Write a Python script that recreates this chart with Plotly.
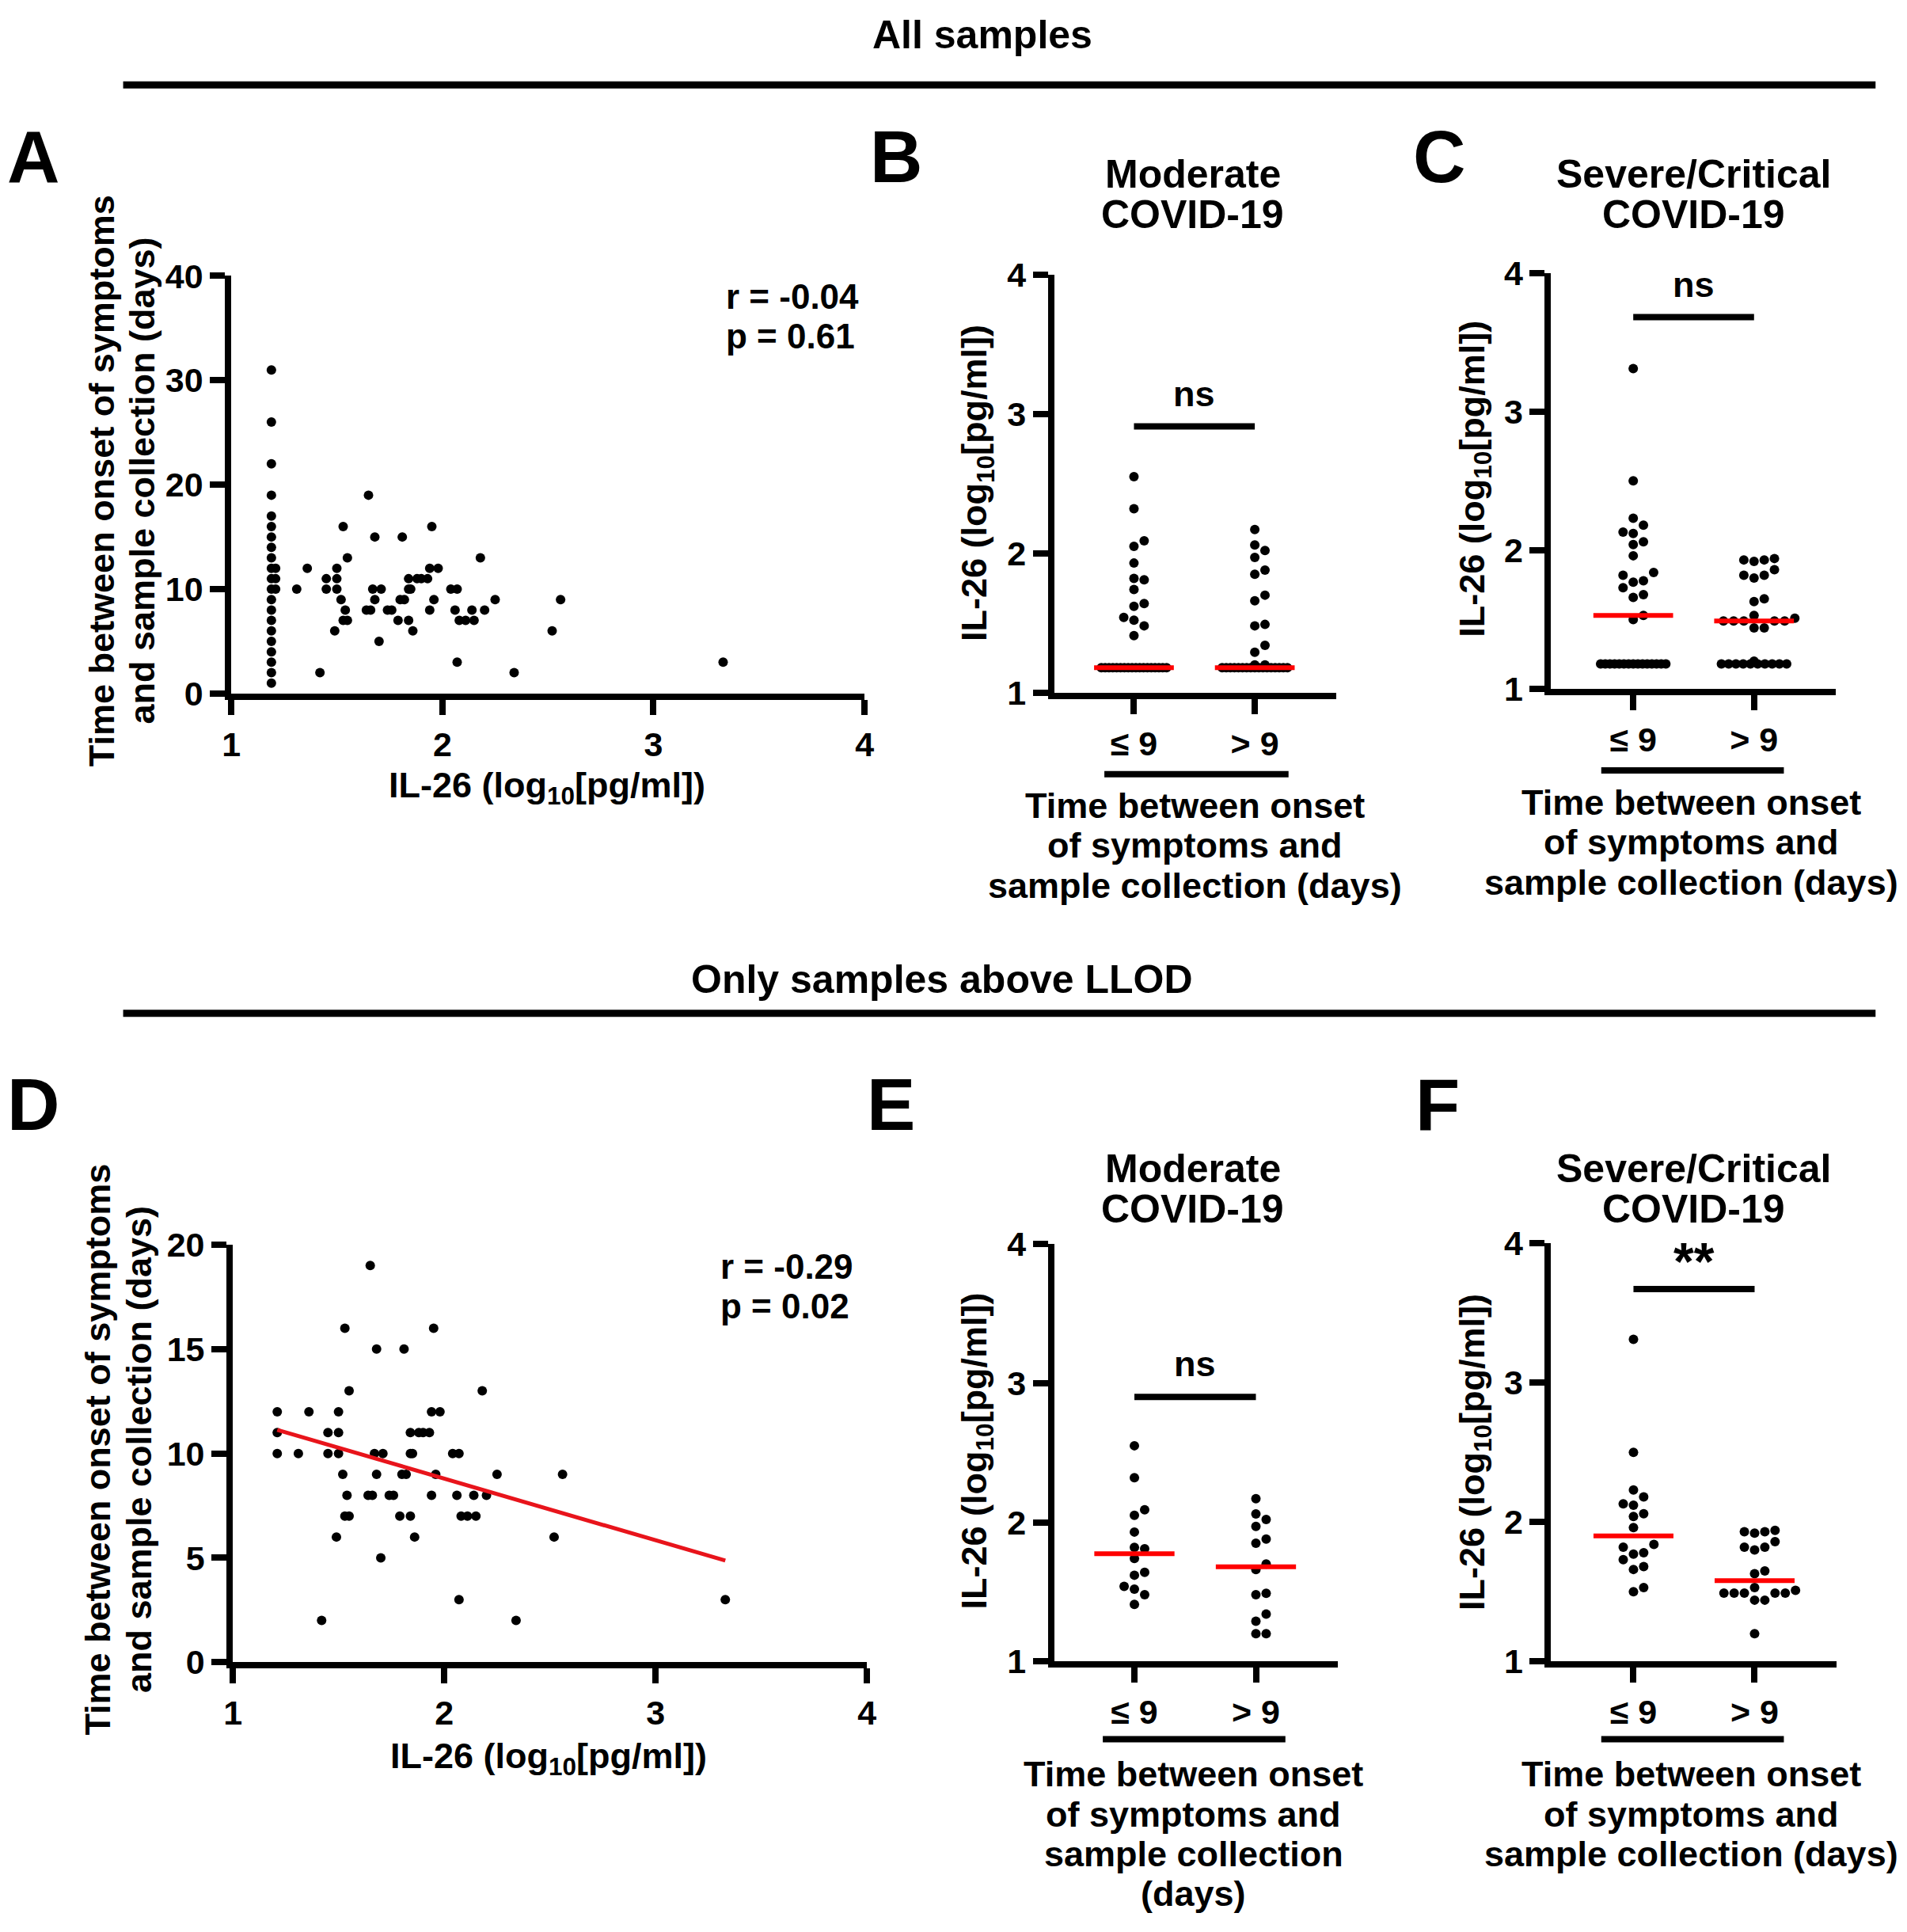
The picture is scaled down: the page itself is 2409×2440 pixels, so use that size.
import numpy as np
import plotly.graph_objects as go

W, H = 2409, 2440
FONT = "Liberation Sans"

# samples above LLOD: IL-26 (log10 pg/ml) vs days since onset (panels A and D)
above_il26 = [1.21, 1.21, 1.21, 1.31, 1.36, 1.45, 1.50, 1.50, 1.45, 1.50,
              1.52, 1.53, 1.55, 1.54, 1.53, 1.55, 1.49, 1.42, 1.65, 1.68,
              1.67, 1.71, 1.68, 1.64, 1.66, 1.70, 1.74, 1.76, 1.81, 1.84,
              1.88, 1.90, 1.93, 1.84, 1.85, 1.80, 1.82, 1.79, 1.84, 1.86,
              1.95, 1.94, 1.98, 1.96, 1.94, 2.04, 2.07, 2.06, 2.14, 2.20,
              2.08, 2.11, 2.15, 2.18, 2.25, 2.07, 2.34, 2.52, 2.56, 3.33]
above_days = [12, 11, 10, 10, 12, 11, 11, 12, 10, 10,
              9, 16, 13, 8, 7, 7, 6, 2, 19, 15,
              10, 10, 9, 8, 8, 5, 8, 8, 15, 11,
              11, 11, 11, 10, 10, 9, 9, 7, 7, 6,
              16, 12, 12, 9, 8, 10, 10, 8, 8, 8,
              7, 7, 7, 13, 9, 3, 2, 6, 9, 3]

# samples at the lower limit of detection (panel A only)
llod = 1.18
llod_days = [1, 2, 3, 4, 5, 6, 7, 8, 9, 10, 11, 12, 13, 14, 15, 16, 17, 19, 22, 26, 31]

# IL-26 above LLOD per group
mod_le9 = [2.55, 2.32, 2.09, 2.05, 1.93, 1.82, 1.81, 1.74, 1.64, 1.62, 1.54, 1.52, 1.48, 1.41]
mod_gt9 = [2.17, 2.06, 2.02, 1.97, 1.88, 1.85, 1.70, 1.66, 1.49, 1.48, 1.34, 1.29, 1.20, 1.20]
sev_le9 = [3.31, 2.50, 2.23, 2.18, 2.13, 2.12, 2.06, 2.04, 1.96, 1.84, 1.82, 1.78, 1.77, 1.73,
           1.68, 1.66, 1.53, 1.50]
sev_gt9 = [1.94, 1.93, 1.93, 1.92, 1.86, 1.82, 1.82, 1.80, 1.65, 1.63, 1.53, 1.51, 1.49, 1.49,
           1.49, 1.49, 1.49, 1.44, 1.44, 1.20]
# number of samples at LLOD per group (only in B and C)
mod_le9_llod = 18
mod_gt9_llod = 17
sev_le9_llod = 15
sev_gt9_llod = 10

group_labels = ["≤ 9", "> 9"]
stats_all = ["r = -0.04", "p = 0.61"]
stats_above = ["r = -0.29", "p = 0.02"]

IL26 = "IL-26 (log<sub>10</sub>[pg/ml])"
DAYS = ["Time between onset of symptoms", "and sample collection (days)"]


def fnt(size):
    return dict(family=FONT, size=size, color="black", weight="bold")


def swarm(vals, xpx=154, ypx=179, step=13, dist=13):
    # simple beeswarm, offsets in x data units
    vals = np.asarray(vals, float)
    offs = np.zeros(len(vals))
    placed = []
    for i in np.argsort(vals):
        y = vals[i] * ypx
        x = 0
        for k in range(80):
            m = (k + 1) // 2 * (1 if k % 2 else -1)
            x = m * step
            if all((x - a) ** 2 + (y - b) ** 2 >= dist ** 2 for a, b in placed):
                break
        placed.append((x, y))
        offs[i] = x / xpx
    return offs


def ax(**kw):
    d = dict(showline=True, linewidth=8, linecolor="black", ticks="outside", ticklen=19,
             tickwidth=8, tickcolor="black", showgrid=False, zeroline=False,
             tickfont=fnt(43), fixedrange=True)
    d.update(kw)
    return d


def dom_x(a, b):
    return [a / W, b / W]


def dom_y(bottom, top):
    return [1 - bottom / H, 1 - top / H]


def text(x, y, s, size=45, **kw):
    opts = dict(xanchor="center", yanchor="middle")
    opts.update(kw)
    fig.add_annotation(x=x / W, y=1 - y / H, xref="paper", yref="paper", text=s,
                       showarrow=False, font=fnt(size), **opts)


def hline(x0, x1, y, width=8):
    fig.add_shape(type="line", xref="paper", yref="paper", x0=x0 / W, x1=x1 / W,
                  y0=1 - y / H, y1=1 - y / H, line=dict(color="black", width=width))


fig = go.Figure()

# ---- scatter panels A (all samples) and D (above LLOD)
fig.add_trace(go.Scatter(x=above_il26 + [llod + 0.01] * len(llod_days), y=above_days + llod_days,
                         mode="markers", marker=dict(size=12, color="black"),
                         cliponaxis=False, xaxis="x", yaxis="y"))
fig.add_trace(go.Scatter(x=above_il26, y=above_days, mode="markers",
                         marker=dict(size=12, color="black"), cliponaxis=False,
                         xaxis="x4", yaxis="y4"))
coef = np.polyfit(above_il26, above_days, 1)
xs = np.array([min(above_il26), max(above_il26)])
fig.add_trace(go.Scatter(x=xs, y=np.polyval(coef, xs), mode="lines",
                         line=dict(color="#e8141b", width=5), xaxis="x4", yaxis="y4"))

# ---- dot plot panels B, C, E, F
dot_panels = [
    ("2", mod_le9, mod_gt9, mod_le9_llod, mod_gt9_llod, 2.91, "ns"),
    ("3", sev_le9, sev_gt9, sev_le9_llod, sev_gt9_llod, 3.68, "ns"),
    ("5", mod_le9, mod_gt9, 0, 0, 2.90, "ns"),
    ("6", sev_le9, sev_gt9, 0, 0, 3.67, "**"),
]
for key, g0, g1, n0, n1, bar_y, sig in dot_panels:
    for gi, (vals, n) in enumerate([(g0, n0), (g1, n1)]):
        xv = list(gi + swarm(vals))
        yv = list(vals)
        if n:
            xv += list(gi + np.linspace(-0.27, 0.27, n))
            yv += [llod] * n
        fig.add_trace(go.Scatter(x=xv, y=yv, mode="markers", marker=dict(size=12, color="black"),
                                 cliponaxis=False, xaxis="x" + key, yaxis="y" + key))
        med = np.median(np.array(list(vals) + [llod] * n))
        fig.add_trace(go.Scatter(x=[gi - 0.33, gi + 0.33], y=[med, med], mode="lines",
                                 line=dict(color="#ff0000", width=6), cliponaxis=False,
                                 xaxis="x" + key, yaxis="y" + key))
    fig.add_shape(type="line", xref="x" + key, yref="y" + key, x0=0, x1=1, y0=bar_y, y1=bar_y,
                  line=dict(color="black", width=8))
    fig.add_annotation(x=0.5, y=bar_y, xref="x" + key, yref="y" + key, text=sig, showarrow=False,
                       xanchor="center", yanchor="bottom", yshift=(14 if sig == "ns" else -4),
                       font=fnt(45 if sig == "ns" else 66))

grp_x = dict(tickvals=[0, 1], ticktext=group_labels)
lvl_y = dict(range=[1, 4], tickvals=[1, 2, 3, 4])
fig.update_layout(
    width=W, height=H, margin=dict(l=0, r=0, t=0, b=0),
    paper_bgcolor="white", plot_bgcolor="white", showlegend=False,
    font=dict(family=FONT, color="black"),
    xaxis=ax(domain=dom_x(283, 1091), range=[1, 4], tickvals=[1, 2, 3, 4], anchor="y"),
    yaxis=ax(domain=dom_y(869, 331), range=[0, 40], tickvals=[0, 10, 20, 30, 40], anchor="x"),
    xaxis2=ax(domain=dom_x(1333, 1693), range=[-0.66, 1.675], anchor="y2", **grp_x),
    yaxis2=ax(domain=dom_y(868, 329), anchor="x2", **lvl_y),
    xaxis3=ax(domain=dom_x(1967, 2330), range=[-0.68, 1.675], anchor="y3", **grp_x),
    yaxis3=ax(domain=dom_y(863, 327), anchor="x3", **lvl_y),
    xaxis4=ax(domain=dom_x(285, 1094), range=[1, 4], tickvals=[1, 2, 3, 4], anchor="y4"),
    yaxis4=ax(domain=dom_y(2117, 1579), range=[0, 20], tickvals=[0, 5, 10, 15, 20], anchor="x4"),
    xaxis5=ax(domain=dom_x(1333, 1695), range=[-0.66, 1.675], anchor="y5", **grp_x),
    yaxis5=ax(domain=dom_y(2116, 1578), anchor="x5", **lvl_y),
    xaxis6=ax(domain=dom_x(1967, 2331), range=[-0.68, 1.675], anchor="y6", **grp_x),
    yaxis6=ax(domain=dom_y(2116, 1577), anchor="x6", **lvl_y),
)

# ---- section headers
text(1241, 20, "All samples", 50)
hline(145, 2381, 85, 9)
text(1190, 1237, "Only samples above LLOD", 50)
hline(145, 2381, 1281, 9)

# ---- panel letters
for lab, x, y in [("A", 30, 178), ("B", 1131, 178), ("C", 1824, 178),
                  ("D", 30, 1399), ("E", 1125, 1399), ("F", 1822, 1399)]:
    text(x, y, lab, 92)

# ---- panel titles
for x, y0, lines in [(1510, 200, ["Moderate", "COVID-19"]), (2149, 200, ["Severe/Critical", "COVID-19"]),
                     (1510, 1481, ["Moderate", "COVID-19"]), (2149, 1481, ["Severe/Critical", "COVID-19"])]:
    for i, s in enumerate(lines):
        text(x, y0 + 52 * i, s, 50)

# ---- scatter panel titles and stats
text(686, 990, IL26, 45)
text(688, 2241, IL26, 45)
for x, y0 in [(117, 595), (113, 1843)]:
    for i, s in enumerate(DAYS):
        text(x + 52 * i, y0, s, 45, textangle=-90)
for i, s in enumerate(stats_all):
    text(912, 358 + 51 * i, s, 44, xanchor="left")
for i, s in enumerate(stats_above):
    text(905, 1607 + 51 * i, s, 44, xanchor="left")

# ---- dot plot axis titles
for x, y in [(1234, 598), (1869, 592), (1234, 1845), (1869, 1846)]:
    text(x, y, IL26, 45, textangle=-90)

xt3 = ["Time between onset", "of symptoms and", "sample collection (days)"]
xt4 = ["Time between onset", "of symptoms and", "sample collection", "(days)"]
for x0, x1, uy, cx, ty, lines in [(1397, 1632, 973, 1513, 1013, xt3),
                                  (2031, 2264, 968, 2146, 1009, xt3),
                                  (1395, 1628, 2216, 1511, 2261, xt4),
                                  (2031, 2264, 2216, 2146, 2261, xt3)]:
    hline(x0, x1, uy, 8)
    for i, s in enumerate(lines):
        text(cx, ty + 51.5 * i, s, 45)

fig.write_html("out.html", config={"displayModeBar": False},
               post_script="document.body.style.margin='0';document.body.style.overflow='hidden';")
